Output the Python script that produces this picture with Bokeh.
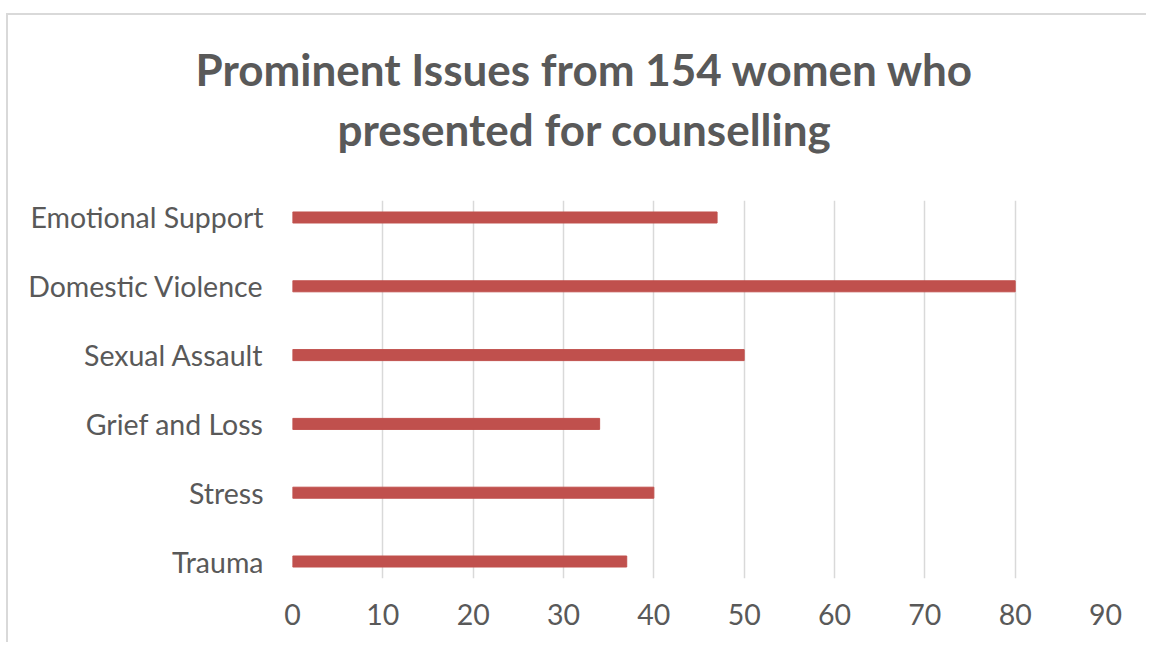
from bokeh.plotting import figure
from bokeh.models import Range1d, FixedTicker, Title
from bokeh.embed import file_html
from bokeh.resources import INLINE

categories = ["Trauma", "Stress", "Grief and Loss", "Sexual Assault",
              "Domestic Violence", "Emotional Support"]
values = [37, 40, 34, 50, 80, 47]
x_ticks = [0, 10, 20, 30, 40, 50, 60, 70, 80, 90]
title_lines = ["Prominent Issues from 154 women who", "presented for counselling"]

FONT = "Lato"
GREY = "#595959"

W, H = 1140, 629
p = figure(width=W, height=H, output_backend="svg", toolbar_location=None,
           x_range=Range1d(0, 90), y_range=Range1d(-0.247, len(categories) - 1 + 0.247),
           min_border_left=284, min_border_right=43, min_border_top=185,
           min_border_bottom=66)

ypos = list(range(len(categories)))
p.hbar(y=ypos, right=values, left=0, height=0.16, color="#C0504D")

p.xaxis.ticker = FixedTicker(ticks=x_ticks)
p.yaxis.ticker = FixedTicker(ticks=ypos)
p.yaxis.major_label_overrides = {i: c for i, c in enumerate(categories)}

for ax in (p.xaxis[0], p.yaxis[0]):
    ax.axis_line_color = None
    ax.major_tick_line_color = None
    ax.minor_tick_line_color = None
    ax.major_label_text_font = FONT
    ax.major_label_text_font_size = "28.5px"
    ax.major_label_text_color = GREY
p.yaxis.major_label_standoff = 23
p.xaxis.major_label_standoff = 19

p.xgrid.grid_line_color = "#D9D9D9"
p.xgrid.grid_line_width = 1.5
p.ygrid.grid_line_color = None
p.outline_line_color = None

# spacer between frame and the two title lines (closest to the frame first)
p.add_layout(Title(text=" ", text_font_size="2px", standoff=41), "above")
p.add_layout(Title(text=title_lines[1], align="left", offset=45, standoff=2,
                   text_font=FONT, text_font_style="bold", text_font_size="44px",
                   text_color=GREY), "above")
p.add_layout(Title(text=title_lines[0], align="left", offset=-97, standoff=9,
                   text_font=FONT, text_font_style="bold", text_font_size="44px",
                   text_color=GREY), "above")

p.styles = {"margin-left": "6px", "margin-top": "13px",
            "border-top": "2px solid #D9D9D9", "border-left": "2px solid #D9D9D9"}

open("out.html", "w").write(file_html(p, INLINE))
